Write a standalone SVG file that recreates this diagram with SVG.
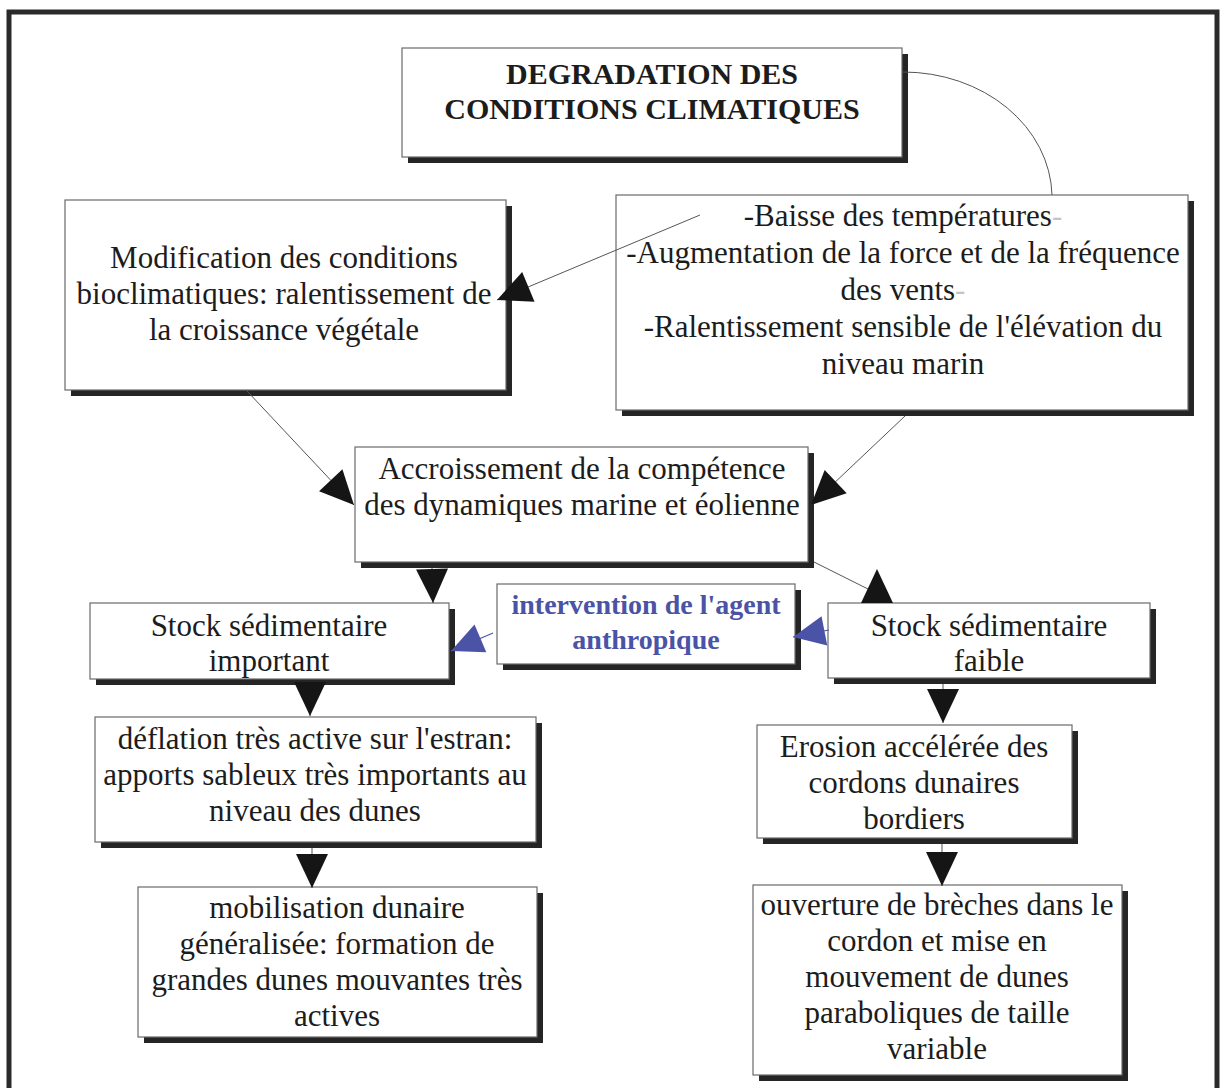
<svg xmlns="http://www.w3.org/2000/svg" width="1223" height="1088" viewBox="0 0 1223 1088">
  <style>
    .box { fill: #ffffff; stroke: #6a6a6a; stroke-width: 1.2; }
    .shadow { fill: #252525; }
    .t { font-family: "Liberation Serif", "Times New Roman", serif; font-size: 31px; fill: #1c1c1c; text-anchor: middle; }
    .bold { font-weight: bold; font-size: 30px; }
    .blue { fill: #4a53a6; font-weight: bold; font-size: 28px; }
    .faint { fill: #c4c4c4; }
    .conn { stroke: #555555; stroke-width: 1; fill: none; }
    .conn-blue { stroke: #4a53a6; stroke-width: 1.2; fill: none; }
  </style>
  <defs>
    <marker id="head" viewBox="-36 -18 38 36" markerWidth="38" markerHeight="36" refX="0" refY="0" orient="auto" markerUnits="userSpaceOnUse">
      <path d="M0,0 L-34,-16 L-34,16 Z" fill="#151515"/>
    </marker>
    <marker id="head-blue" viewBox="-36 -18 38 36" markerWidth="38" markerHeight="36" refX="0" refY="0" orient="auto" markerUnits="userSpaceOnUse">
      <path d="M0,0 L-32,-15 L-32,15 Z" fill="#4a53a6"/>
    </marker>
  </defs>

  <rect width="1223" height="1088" fill="#ffffff"/>

  <!-- outer frame -->
  <rect x="9" y="12" width="1208" height="1100" fill="none" stroke="#2a2a2a" stroke-width="5"/>

  <g id="node-degradation">
    <rect class="shadow" x="408" y="54" width="500" height="109"/>
    <rect class="box" x="402" y="48" width="500" height="109"/>
    <text class="t bold" x="652" y="84">DEGRADATION DES</text>
    <text class="t bold" x="652" y="119">CONDITIONS CLIMATIQUES</text>
  </g>

  <g id="node-bioclimatique">
    <rect class="shadow" x="71" y="206" width="441" height="190"/>
    <rect class="box" x="65" y="200" width="441" height="190"/>
    <text class="t" x="284" y="268">Modification des conditions</text>
    <text class="t" x="284" y="304">bioclimatiques: ralentissement de</text>
    <text class="t" x="284" y="340">la croissance végétale</text>
  </g>

  <g id="node-facteurs">
    <rect class="shadow" x="622" y="201" width="572" height="215"/>
    <rect class="box" x="616" y="195" width="572" height="215"/>
    <text class="t" x="903" y="226">-Baisse des températures<tspan class="faint">-</tspan></text>
    <text class="t" x="903" y="263">-Augmentation de la force et de la fréquence</text>
    <text class="t" x="903" y="300">des vents<tspan class="faint">-</tspan></text>
    <text class="t" x="903" y="337">-Ralentissement sensible de l'élévation du</text>
    <text class="t" x="903" y="374">niveau marin</text>
  </g>

  <g id="node-accroissement">
    <rect class="shadow" x="361" y="453" width="453" height="115"/>
    <rect class="box" x="355" y="447" width="453" height="115"/>
    <text class="t" x="582" y="479">Accroissement de la compétence</text>
    <text class="t" x="582" y="515">des dynamiques marine et éolienne</text>
  </g>

  <g id="node-stock-important">
    <rect class="shadow" x="96" y="609" width="359" height="76"/>
    <rect class="box" x="90" y="603" width="359" height="76"/>
    <text class="t" x="269" y="636">Stock sédimentaire</text>
    <text class="t" x="269" y="671">important</text>
  </g>

  <g id="node-intervention">
    <rect class="shadow" x="503" y="590" width="298" height="80"/>
    <rect class="box" x="497" y="584" width="298" height="80"/>
    <text class="t blue" x="646" y="614">intervention de l'agent</text>
    <text class="t blue" x="646" y="649">anthropique</text>
  </g>

  <g id="node-stock-faible">
    <rect class="shadow" x="834" y="609" width="322" height="75"/>
    <rect class="box" x="828" y="603" width="322" height="75"/>
    <text class="t" x="989" y="636">Stock sédimentaire</text>
    <text class="t" x="989" y="671">faible</text>
  </g>

  <g id="node-deflation">
    <rect class="shadow" x="101" y="723" width="441" height="125"/>
    <rect class="box" x="95" y="717" width="441" height="125"/>
    <text class="t" x="315" y="749">déflation très active sur l'estran:</text>
    <text class="t" x="315" y="785">apports sableux très importants au</text>
    <text class="t" x="315" y="821">niveau des dunes</text>
  </g>

  <g id="node-mobilisation">
    <rect class="shadow" x="144" y="893" width="399" height="150"/>
    <rect class="box" x="138" y="887" width="399" height="150"/>
    <text class="t" x="337" y="918">mobilisation dunaire</text>
    <text class="t" x="337" y="954">généralisée: formation de</text>
    <text class="t" x="337" y="990">grandes dunes mouvantes très</text>
    <text class="t" x="337" y="1026">actives</text>
  </g>

  <g id="node-erosion">
    <rect class="shadow" x="763" y="731" width="315" height="113"/>
    <rect class="box" x="757" y="725" width="315" height="113"/>
    <text class="t" x="914" y="757">Erosion accélérée des</text>
    <text class="t" x="914" y="793">cordons dunaires</text>
    <text class="t" x="914" y="829">bordiers</text>
  </g>

  <g id="node-ouverture">
    <rect class="shadow" x="759" y="891" width="369" height="190"/>
    <rect class="box" x="753" y="885" width="369" height="190"/>
    <text class="t" x="937" y="915">ouverture de brèches dans le</text>
    <text class="t" x="937" y="951">cordon et mise en</text>
    <text class="t" x="937" y="987">mouvement de dunes</text>
    <text class="t" x="937" y="1023">paraboliques de taille</text>
    <text class="t" x="937" y="1059">variable</text>
  </g>

  <!-- connectors, drawn over the boxes -->
  <g id="connectors">
    <path class="conn" d="M903,72 A149,126 0 0 1 1052,195"/>
    <path class="conn" d="M700,215 L497,300" marker-end="url(#head)"/>
    <path class="conn" d="M247,391 L354,505" marker-end="url(#head)"/>
    <path class="conn" d="M905,416 L811,505" marker-end="url(#head)"/>
    <path class="conn" d="M432,568 L433,603" marker-end="url(#head)"/>
    <path class="conn" d="M814,562 L870,590"/>
    <polygon points="877,569 861,603 893,603" fill="#151515"/>
    <path class="conn-blue" d="M493,633 L451,651" marker-end="url(#head-blue)"/>
    <path class="conn-blue" d="M829,630 L793,637" marker-end="url(#head-blue)"/>
    <path class="conn" d="M310,685 L310,716" marker-end="url(#head)"/>
    <path class="conn" d="M312,848 L312,888" marker-end="url(#head)"/>
    <path class="conn" d="M943,684 L943,723" marker-end="url(#head)"/>
    <path class="conn" d="M942,844 L942,886" marker-end="url(#head)"/>
  </g>
</svg>
